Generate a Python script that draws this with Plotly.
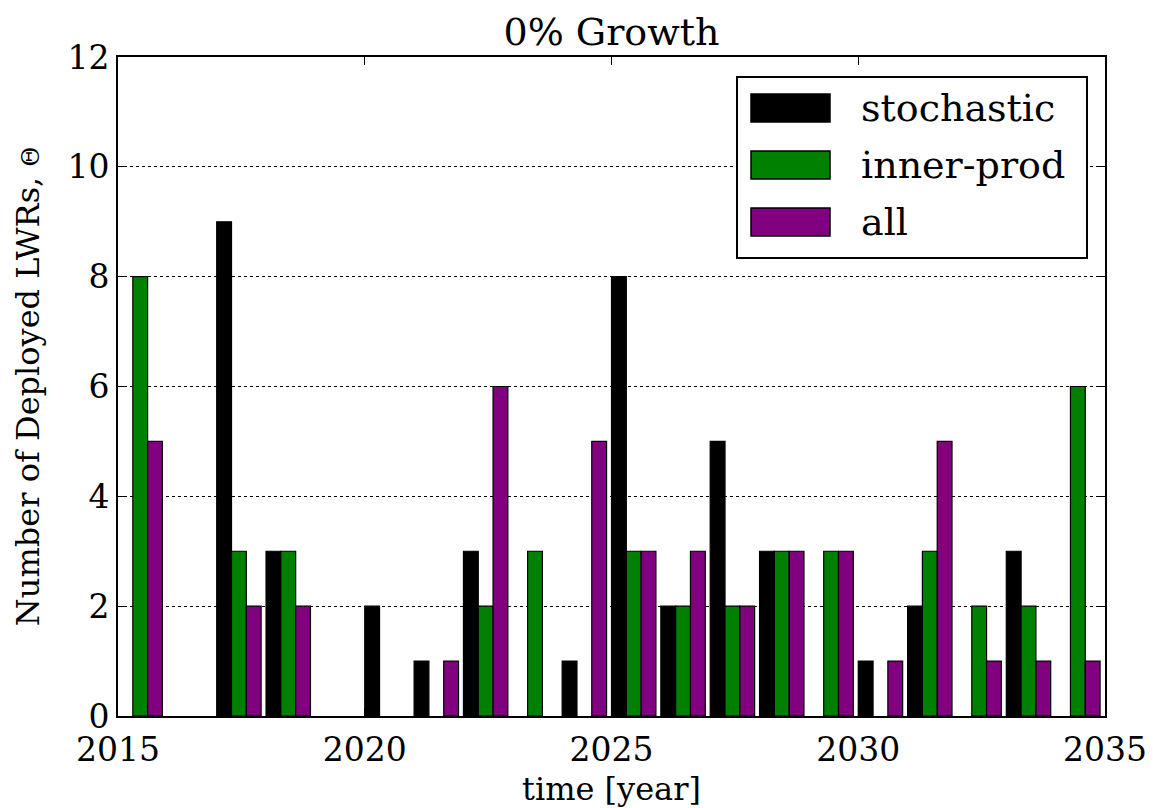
import plotly.graph_objects as go

years = list(range(2015, 2035))
stochastic = [0, 0, 9, 3, 0, 2, 1, 3, 0, 1, 8, 2, 5, 3, 0, 1, 2, 0, 3, 0]
inner_prod = [8, 0, 3, 3, 0, 0, 0, 2, 3, 0, 3, 2, 2, 3, 3, 0, 3, 2, 2, 6]
all_vals = [5, 0, 2, 2, 0, 0, 1, 6, 0, 5, 3, 3, 2, 3, 3, 1, 5, 1, 1, 1]

names = ["stochastic", "inner-prod", "all"]
colors = ["#000000", "#008000", "#800080"]
offsets = [0.0, 0.3, 0.6]
values = [stochastic, inner_prod, all_vals]

FONT = "DejaVu Serif"
fig = go.Figure()
for name, vals, color, off in zip(names, values, colors, offsets):
    fig.add_trace(go.Bar(
        x=years, y=[v if v else None for v in vals], name=name, width=0.3, offset=off,
        marker=dict(color=color, line=dict(color="black", width=1.2)),
        showlegend=False,
    ))

# plot area in page pixels (reference): x 118..1105, y 57..716
PX0, PX1, PY0, PY1 = 118, 1105, 57, 716
def px(x):
    return (x - PX0) / (PX1 - PX0)
def py(y):
    return (PY1 - y) / (PY1 - PY0)

shapes = []
annotations = []
# legend box
shapes.append(dict(type="rect", xref="paper", yref="paper",
                   x0=px(737), x1=px(1087), y0=py(258), y1=py(77),
                   line=dict(color="black", width=2), fillcolor="white", layer="above"))
row_centers = [108, 165, 222]
for name, color, cy in zip(names, colors, row_centers):
    shapes.append(dict(type="rect", xref="paper", yref="paper",
                       x0=px(751), x1=px(830), y0=py(cy + 14), y1=py(cy - 14),
                       line=dict(color="black", width=1.5), fillcolor=color, layer="above"))
    annotations.append(dict(xref="paper", yref="paper", x=px(859), y=py(cy),
                            xanchor="left", yanchor="middle", showarrow=False,
                            text=name, font=dict(family=FONT, size=38, color="black")))

fig.update_layout(
    width=1145, height=800,
    margin=dict(l=110, r=48, t=49, b=92, autoexpand=False),
    barmode="overlay",
    showlegend=False,
    plot_bgcolor="white", paper_bgcolor="white",
    font=dict(family=FONT, size=30, color="black"),
    title=dict(text="0% Growth", x=0.5 * (PX0 + PX1) / 1145 - 8 / 1145, xanchor="center",
               y=1 - 24 / 800, yanchor="middle",
               font=dict(family=FONT, size=38)),
    shapes=shapes,
    annotations=annotations,
    xaxis=dict(range=[2015, 2035], dtick=5, tick0=2015, showgrid=False,
               ticks="inside", ticklen=8, tickwidth=1, tickcolor="black",
               showline=True, linecolor="black", linewidth=2, mirror="ticks",
               zeroline=False, ticklabelstandoff=3,
               title=dict(text="time [year]", font=dict(family=FONT, size=32), standoff=14),
               tickfont=dict(family=FONT, size=33)),
    yaxis=dict(range=[0, 12], dtick=2, tick0=0, showgrid=True,
               gridcolor="black", griddash="dot", gridwidth=1,
               ticks="inside", ticklen=8, tickwidth=1, tickcolor="black",
               showline=True, linecolor="black", linewidth=2, mirror="ticks",
               zeroline=False,
               title=dict(text="Number of Deployed LWRs, <span style='font-size:24px'>Θ</span>",
                          font=dict(family=FONT, size=32), standoff=18),
               tickfont=dict(family=FONT, size=33)),
)

fig.write_html("out.html")
